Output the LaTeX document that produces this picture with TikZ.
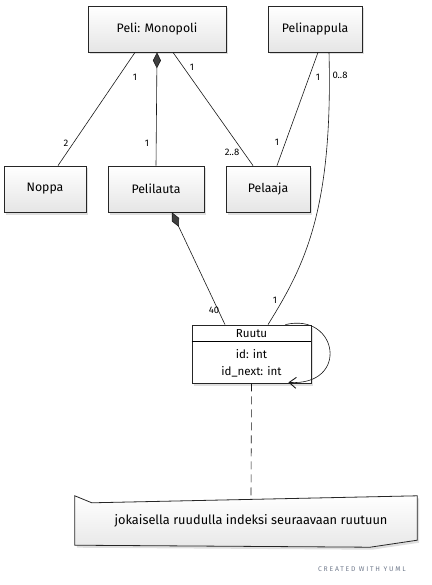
\documentclass[tikz,border=0pt]{standalone}
\usepackage{fontspec}
\setmainfont{Fira Sans}
\newfontfamily\creditfont[LetterSpace=26]{Fira Sans}
\usetikzlibrary{arrows.meta, calc, shadows}

\definecolor{creditgray}{RGB}{112,122,140}
\definecolor{diamondgray}{RGB}{64,64,64}

\tikzstyle{classbox} = [rectangle, minimum height=46pt, text centered, draw=black!85, line width=0.8pt, top color=white, bottom color=gray!20, drop shadow={opacity=0.25, shadow xshift=2pt, shadow yshift=-2.5pt}, font=\fontsize{12.3}{14}\selectfont]
\tikzstyle{attrbox} = [rectangle, draw=black!85, line width=0.8pt, fill=white, drop shadow={opacity=0.25, shadow xshift=2pt, shadow yshift=-2.5pt}]
\tikzstyle{attrtext} = [font=\fontsize{11.6}{13}\selectfont, inner sep=0pt]
\tikzstyle{notebox} = [draw=black!85, line width=0.8pt, top color=white, bottom color=gray!18, drop shadow={opacity=0.25, shadow xshift=2pt, shadow yshift=-2.5pt}]
\tikzstyle{link} = [line width=0.6pt, black!90]
\tikzstyle{composite} = [link, {Diamond[length=16pt, width=8pt, fill=diamondgray]}-]
\tikzstyle{selfloop} = [link, -{Straight Barb[length=7pt, width=11pt, line width=0.9pt]}]
\tikzstyle{mult} = [font=\fontsize{9.5}{11}\selectfont, inner sep=1pt]

\begin{document}
\begin{tikzpicture}[x=1pt, y=-1pt]
    \useasboundingbox (0,0) rectangle (431,585);

    % classes
    \node (peli) [classbox, minimum width=138pt] at (157,29) {Peli: Monopoli};
    \node (pelinappula) [classbox, minimum width=94pt] at (315,29) {Pelinappula};
    \node (noppa) [classbox, minimum width=82pt] at (45,189) {Noppa};
    \node (pelilauta) [classbox, minimum width=96pt] at (156,189) {Pelilauta};
    \node (pelaaja) [classbox, minimum width=84pt] at (268,189) {Pelaaja};

    % Ruutu with attributes
    \node (ruutu) [attrbox, minimum width=119pt, minimum height=58pt] at (251.5,354) {};
    \draw [line width=0.6pt] ($(ruutu.north west)+(0,17)$) -- ($(ruutu.north east)+(0,17)$);
    \node (ruutuname) [attrtext] at ($(ruutu.north)+(0,8.5)$) {Ruutu};
    \node (ruutuid) [attrtext] at (251.5,354) {id: int};
    \node (ruutunext) [attrtext] at (251.5,372) {id\_next: int};

    % note
    \node (note) [minimum width=342pt, minimum height=49pt] at (246,520.5) {};
    \draw [notebox] (note.north west) -- ($(note.north west)+(17,7)$) -- (note.north east) -- ($(note.south east)+(0,-5)$) -- ($(note.south east)+(-47,2)$) -- (note.south west) -- cycle;
    \node (notetext) [font=\fontsize{12.8}{14}\selectfont] at ($(note.center)+(5,0)$) {jokaisella ruudulla indeksi seuraavaan ruutuun};

    % associations
    \draw [link] ($(peli.south)+(-22,0)$) -- ($(noppa.north)+(13,0)$);
    \draw [composite] (peli.south) -- (pelilauta.north);
    \draw [link] ($(peli.south)+(16,0)$) -- ($(pelaaja.north)+(-15,0)$);
    \draw [link] ($(pelinappula.south)+(3,0)$) -- ($(pelaaja.north)+(9,0)$);
    \draw [link] ($(pelinappula.south)+(14,0)$) .. controls (333,210) and (305,265) .. ($(ruutu.north)+(16.5,0)$);
    \draw [composite] ($(pelilauta.south)+(16,0)$) -- ($(ruutu.north)+(-26.5,0)$);
    \draw [selfloop] ($(ruutu.north east)+(-26,0)$) .. controls (338,312) and (350,386) .. ($(ruutu.south east)+(-23,-1)$);
    \draw [link, dash pattern=on 8pt off 5pt] (ruutu.south) -- ($(note.north)+(5,2)$);

    % multiplicities
    \node (mPeliNoppa) [mult] at (135,77) {1};
    \node (mNoppa) [mult] at (66,143) {2};
    \node (mPelilauta) [mult] at (147,143) {1};
    \node (mPeliPelaaja) [mult] at (192,67) {1};
    \node (mPelaajaPeli) [mult] at (232,152) {2..8};
    \node (mNappulaPelaaja) [mult] at (318,77) {1};
    \node (mPelaajaNappula) [mult] at (277,142) {1};
    \node (mNappulaRuutu) [mult] at (340,75) {0..8};
    \node (mRuutuNappula) [mult] at (275,300) {1};
    \node (mRuutuLauta) [mult] at (214,310) {40};

    \node (credit) [font=\creditfont\fontsize{6.8}{8}\selectfont, text=creditgray] at (362,569) {CREATED WITH YUML};
\end{tikzpicture}
\end{document}
